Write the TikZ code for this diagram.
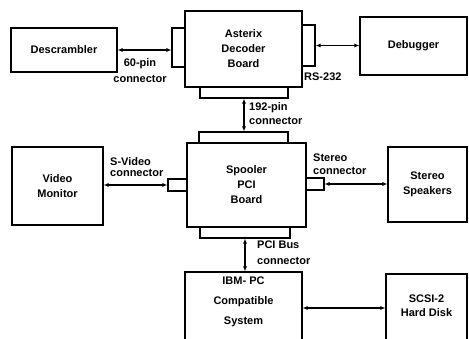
\documentclass[tikz,border=0pt]{standalone}
\usepackage{fontspec}
\setmainfont{Liberation Sans}
\usetikzlibrary{arrows.meta}
\begin{document}
\begin{tikzpicture}[x=1pt,y=-1pt,
  every node/.style={font=\fontsize{11}{15}\selectfont\bfseries},
  blk/.style={draw,line width=1.1pt,inner sep=0pt,align=center},
  tab/.style={draw,line width=1.1pt,inner sep=0pt,fill=white},
  lbl/.style={inner sep=0pt,align=left},
  conn/.style={line width=1.1pt,{Latex[length=5pt,width=4pt]}-{Latex[length=5pt,width=4pt]}}]
\useasboundingbox (0,0) rectangle (469,339);
\clip (0,0) rectangle (469,339);
% top row
\node[blk,minimum width=106,minimum height=44] (desc) at (64,50) {Descrambler};
\node[blk,minimum width=117,minimum height=76] (astx) at (243.5,49) {Asterix\\Decoder\\Board};
\node[tab,minimum width=13,minimum height=39] (astxL) at (178.5,47.5) {};
\node[tab,minimum width=13,minimum height=41] (astxR) at (308.5,45.5) {};
\node[tab,minimum width=88,minimum height=11] (astxB) at (244,92.5) {};
\node[blk,minimum width=107,minimum height=58] (dbg) at (413.5,46) {Debugger};
\draw[conn] (desc.east) -- (desc.east -| astxL.west);
\draw[conn] (astxR.east) -- (astxR.east -| dbg.west);
\node[lbl,align=center,font=\fontsize{11}{16}\selectfont\bfseries] (l60) at (140,71) {60-pin\\connector};
\node[lbl,anchor=west] (lrs) at (304,77) {RS-232};
% middle row
\node[blk,minimum width=119,minimum height=84] (spool) at (246.5,185) {Spooler\\PCI\\Board};
\node[tab,minimum width=89,minimum height=11] (spoolT) at (243.5,137.5) {};
\node[tab,minimum width=19,minimum height=12] (spoolL) at (177.5,185) {};
\node[tab,minimum width=18,minimum height=12] (spoolR) at (315,184) {};
\node[tab,minimum width=90,minimum height=11] (spoolB) at (245,232.5) {};
\node[blk,minimum width=91,minimum height=78] (vid) at (57.5,186) {Video\\Monitor};
\node[blk,minimum width=79,minimum height=75] (spk) at (427.5,184.5) {Stereo\\Speakers};
\draw[conn] (vid.east |- spoolL.west) -- (spoolL.west);
\draw[conn] (spoolR.east) -- (spoolR.east -| spk.west);
\draw[conn] (astxB.south) -- (astxB.south |- spoolT.north);
\node[lbl,anchor=west,font=\fontsize{11}{14}\selectfont\bfseries] (l192) at (249,114) {192-pin\\connector};
\node[lbl,anchor=west,font=\fontsize{11}{10.5}\selectfont\bfseries] (lsv) at (110,167) {S-Video\\connector};
\node[lbl,anchor=west,font=\fontsize{11}{13}\selectfont\bfseries] (lst) at (313,164.5) {Stereo\\connector};
% bottom row
\node[blk,minimum width=117,minimum height=72] (ibm) at (243.5,308) {};
\node[lbl,align=center,font=\fontsize{11}{20}\selectfont\bfseries] (ibmt) at (243.5,302) {IBM- PC\\Compatible\\System};
\node[blk,minimum width=81,minimum height=70] (scsi) at (426.5,309) {};
\node[lbl,align=center,font=\fontsize{11}{14}\selectfont\bfseries] (scsit) at (426.5,306) {SCSI-2\\Hard Disk};
\draw[conn] (spoolB.south) -- (spoolB.south |- ibm.north);
\draw[conn] (ibm.east) -- (ibm.east -| scsi.west);
\node[lbl,anchor=west,font=\fontsize{11}{16}\selectfont\bfseries] (lpci) at (257,253) {PCI Bus\\connector};
\end{tikzpicture}
\end{document}
